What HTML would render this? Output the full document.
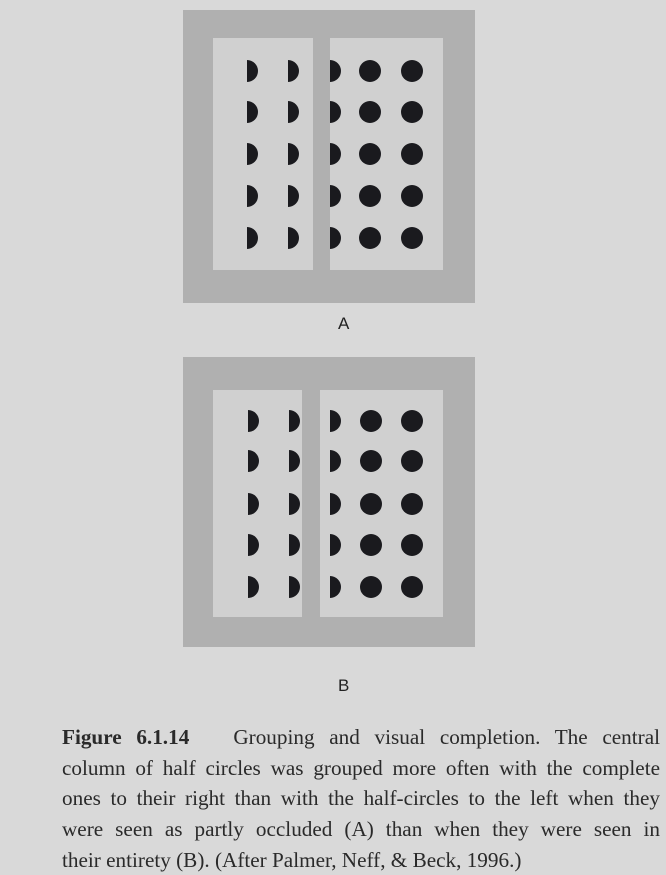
<!DOCTYPE html>
<html><head><meta charset="utf-8">
<style>
html,body{margin:0;padding:0;width:666px;height:869px;overflow:hidden;background:#d9d9d9;}
.lab{position:absolute;font-family:"Liberation Sans",sans-serif;font-size:17px;color:#222;}
.cap{position:absolute;left:62px;width:598px;font-family:"Liberation Serif",serif;font-size:21.2px;color:#2a2a2a;line-height:30.7px;}
.ln{text-align:justify;text-align-last:justify;white-space:nowrap;height:30.7px;}
.ln.last{text-align-last:left;}
</style></head><body>
<svg width="666" height="700" style="position:absolute;left:0;top:0">
  <g id="gA"></g>
  <g id="gB"></g>
</svg>
<div class="lab" style="left:338px;top:314px">A</div>
<div class="lab" style="left:338px;top:676px">B</div>
<div class="cap" style="top:722px">
<div class="ln"><b>Figure 6.1.14</b>&nbsp;&nbsp; Grouping and visual completion. The central</div>
<div class="ln">column of half circles was grouped more often with the complete</div>
<div class="ln">ones to their right than with the half-circles to the left when they</div>
<div class="ln">were seen as partly occluded (A) than when they were seen in</div>
<div class="ln last">their entirety (B). (After Palmer, Neff, &amp; Beck, 1996.)</div>
</div>
<script>
const rowsA=[71,112,154,196,238];
const halfXA=[247,288,330];
const fullXA=[370,412];
const rowsB=[421,461,504,545,587];
const halfXB=[248,289,330];
const fullXB=[371,412];
const NS='http://www.w3.org/2000/svg';
function mk(g,tag,attrs){const e=document.createElementNS(NS,tag);for(const k in attrs)e.setAttribute(k,attrs[k]);g.appendChild(e);return e;}
function panel(g,o,L,R,rows,hx,fx){
  let e=mk(g,'rect',{x:o[0],y:o[1],width:o[2]-o[0],height:o[3]-o[1],fill:'#b0b0b0'});
  
  
  e=mk(g,'rect',{x:L[0],y:L[1],width:L[2]-L[0],height:L[3]-L[1],fill:'#d0d0d0'});
  
  
  e=mk(g,'rect',{x:R[0],y:R[1],width:R[2]-R[0],height:R[3]-R[1],fill:'#d0d0d0'});
  
  
  const r=11;
  rows.forEach(y=>{
    hx.forEach(x=>{
      const p=mk(g,'path',{d:`M${x} ${y-r} A${r} ${r} 0 0 1 ${x} ${y+r} Z`,fill:'#1a1a1e'});
      
      
    });
    fx.forEach(x=>{
      const c=mk(g,'circle',{cx:x,cy:y,r:r,fill:'#1a1a1e'});
      
      
    });
  });
}
panel(document.getElementById('gA'),[183,10,475,303],[213,38,313,270],[330,38,443,270],rowsA,halfXA,fullXA);
panel(document.getElementById('gB'),[183,357,475,647],[213,390,302,617],[320,390,443,617],rowsB,halfXB,fullXB);
</script>
</body></html>
